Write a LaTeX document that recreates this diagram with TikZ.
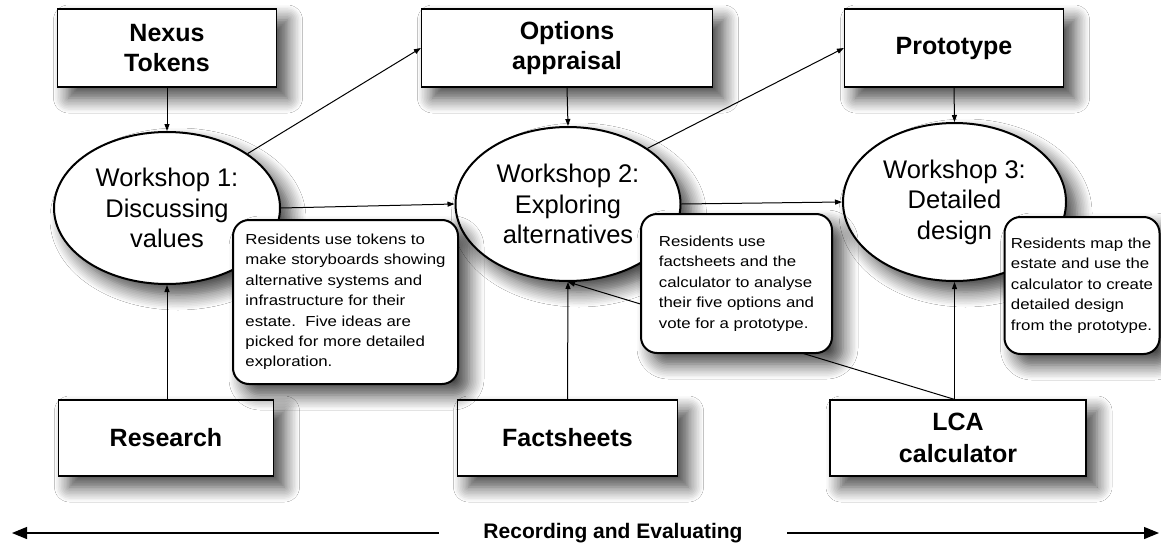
\documentclass[tikz,border=0pt]{standalone}
\usepackage{fontspec}
\setmainfont{Liberation Sans}
\newfontfamily\callfont[FakeStretch=1.16]{Liberation Sans}
\usetikzlibrary{shapes.geometric,arrows.meta,shadows.blur}
\begin{document}
\begin{tikzpicture}[x=1pt,y=-1pt,
  shad/.style={blur shadow={shadow xshift=11pt,shadow yshift=-11pt,shadow blur radius=15pt,shadow blur steps=10,shadow opacity=75}},
  box/.style={draw,line width=1.2pt,fill=white,shad,inner sep=0pt,align=center,
    font=\bfseries\fontsize{25}{30}\selectfont},
  work/.style={ellipse,draw,line width=2pt,fill=white,shad,inner sep=0pt,align=center,
    font=\fontsize{25.5}{30.5}\selectfont},
  callout/.style={draw,line width=2pt,rounded corners=16pt,fill=white,shad,inner sep=0pt,
    align=left,font=\callfont\fontsize{14.5}{20.4}\selectfont},
  conn/.style={line width=1pt,-{Triangle[length=7pt,width=5pt]}},
  bigarrow/.style={line width=1.2pt,-{Triangle[length=15pt,width=12pt]}},
]
\useasboundingbox (0,0) rectangle (1161,546);
\fill[white] (0,0) rectangle (1161,546);

% top boxes
\node[box,minimum width=219pt,minimum height=78pt] (nexus) at (167,48) {Nexus\\Tokens};
\node[box,minimum width=291pt,minimum height=78pt] (options) at (567,48) {Options\\appraisal};
\node[box,minimum width=219pt,minimum height=78pt] (proto) at (954,48) {Prototype};

% bottom boxes
\node[box,minimum width=215pt,minimum height=76pt] (research) at (166,438) {Research};
\node[box,minimum width=220pt,minimum height=76pt] (facts) at (567.5,438) {Factsheets};
\node[box,minimum width=256pt,minimum height=76pt,font=\bfseries\fontsize{25}{32}\selectfont] (lca) at (958,438) {LCA\\calculator};

% workshops
\node[work,minimum width=226pt,minimum height=152pt] (w1) at (167,208) {Workshop 1:\\Discussing\\values};
\node[work,minimum width=225pt,minimum height=154pt] (w2) at (568,204) {Workshop 2:\\Exploring\\alternatives};
\node[work,minimum width=223pt,minimum height=158pt] (w3) at (954.5,202) {Workshop 3:\\Detailed\\design};

% connectors
\draw[conn] (nexus.south) -- (w1.north);
\draw[conn] (options.south) -- (w2.north);
\draw[conn] (proto.south) -- (w3.north);
\draw[conn] (w1.34) -- (options.west);
\draw[conn] (w2.35) -- (proto.west);
\draw[conn] (w1.east) -- (w2.west);
\draw[conn] (w2.east) -- (w3.west);
\draw[conn] (w1.south |- research.north) -- (w1.south);
\draw[conn] (facts.north) -- (w2.south);
\draw[conn] (w3.south |- lca.north) -- (w3.south);
\draw[conn] (w3.south |- lca.north) -- (w2.south);

% callouts
\node[callout,minimum width=225pt,minimum height=164pt] (c1) at (345.5,302)
  {Residents use tokens to\\make storyboards showing\\alternative systems and\\infrastructure for their\\estate.\ \ Five ideas are\\picked for more detailed\\exploration.};
\node[callout,minimum width=191pt,minimum height=139pt] (c2) at (736.5,283.5)
  {Residents use\\factsheets and the\\calculator to analyse\\their five options and\\vote for a prototype.};
\node[callout,minimum width=155pt,minimum height=137pt] (c3) at (1082,285.5)
  {Residents map the\\estate and use the\\calculator to create\\detailed design\\from the prototype.};

% recording arrow
\node[fill=white,inner sep=0pt,minimum width=348pt,minimum height=40pt,
  font=\bfseries\fontsize{21}{25}\selectfont] (rec) at (613,533) {Recording and Evaluating};
\coordinate (L) at (12,533);
\coordinate (R) at (1159,533);
\draw[bigarrow] (rec.west) -- (L);
\draw[bigarrow] (rec.east) -- (R);
\end{tikzpicture}
\end{document}
